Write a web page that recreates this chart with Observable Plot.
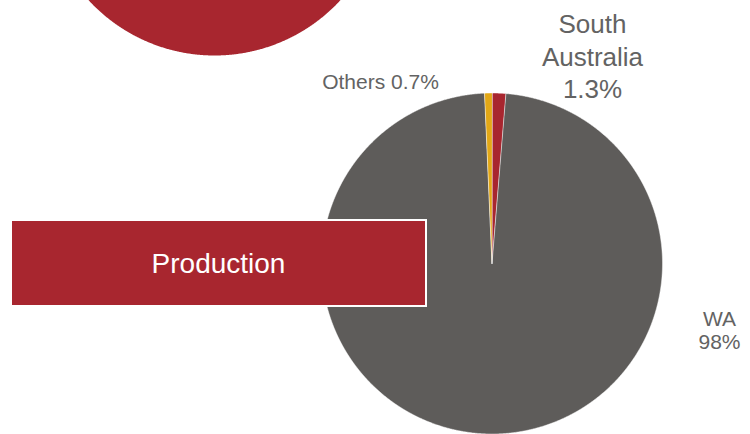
<!DOCTYPE html>
<html><head><meta charset="utf-8">
<script src="https://cdn.jsdelivr.net/npm/d3@7"></script>
<script src="https://cdn.jsdelivr.net/npm/@observablehq/plot@0.6"></script>
<style>
html,body{margin:0;padding:0;background:#fff;overflow:hidden}
#chart svg{display:block}
</style>
</head><body><div id="chart"></div>
<script>
// ---- data (clockwise from 12 o'clock) ----
const regions = ["South Australia", "WA", "Others"];
const shares = [1.3, 98, 0.7];
const labels = ["South\nAustralia\n1.3%", "WA\n98%", "Others 0.7%"];
const colors = ["#a8262f", "#5e5c5a", "#e3a816"];
// the neighbouring (cut-off) pie: a single full slice
const topRegions = ["Total"];
const topShares = [100];
const bannerText = ["Production"];

// ---- layout (pixels) ----
const W = 750, H = 434;
const pie = {cx: 491.5, cy: 263, r: 170.5};
const topPie = {cx: 214, cy: -116, r: 171};
const labelPos = [
  {px: 592, py: 55, size: 26, lh: 1.25},
  {px: 719, py: 330, size: 21, lh: 1.1},
  {px: 380, py: 81.5, size: 21, lh: 1}
];
const banner = {x1: 11, x2: 426, y1: 220, y2: 306, tx: 218, ty: 264, size: 28};

// data units: 1 = main pie radius, origin at main pie centre, y up
const toX = px => (px - pie.cx) / pie.r;
const toY = py => (pie.cy - py) / pie.r;

function slices(names, values, center, radius) {
  const total = d3.sum(values);
  const pts = [];
  let a = 0;
  names.forEach((name, i) => {
    const a0 = a, a1 = a + values[i] / total * 2 * Math.PI;
    a = a1;
    const n = Math.max(2, Math.ceil((a1 - a0) / (Math.PI / 720)));
    const ox = toX(center.cx), oy = toY(center.cy), rr = radius / pie.r;
    if (values[i] < total) pts.push({key: name, x: ox, y: oy});
    for (let k = 0; k <= n; k++) {
      const t = a0 + (a1 - a0) * k / n;
      pts.push({key: name, x: ox + rr * Math.sin(t), y: oy + rr * Math.cos(t)});
    }
  });
  return pts;
}

const mainPts = slices(regions, shares, pie, pie.r);
const topPts = slices(topRegions, topShares, topPie, topPie.r);

const labelData = labels.map((t, i) => ({text: t, x: toX(labelPos[i].px), y: toY(labelPos[i].py), size: labelPos[i].size, lh: labelPos[i].lh}));

const font = "'Liberation Sans', Arial, Helvetica, sans-serif";

const chart = Plot.plot({
  width: W, height: H, margin: 0,
  style: {fontFamily: font, background: "#fff", overflow: "hidden"},
  x: {domain: [toX(0), toX(W)], axis: null},
  y: {domain: [toY(H), toY(0)], axis: null},
  color: {domain: regions, range: colors},
  marks: [
    Plot.line(topPts, {x: "x", y: "y", z: "key", fill: "#a8262f", stroke: "none", curve: "linear-closed", clip: true}),
    Plot.line(mainPts, {x: "x", y: "y", z: "key", fill: "key", stroke: "#ffffff", strokeWidth: 0.6, strokeOpacity: 0.8, curve: "linear-closed", clip: true}),
    Plot.rect(bannerText, {x1: () => toX(banner.x1), x2: () => toX(banner.x2), y1: () => toY(banner.y1), y2: () => toY(banner.y2), fill: "#a8262f", stroke: "#ffffff", strokeWidth: 2}),
    Plot.text(bannerText, {x: () => toX(banner.tx), y: () => toY(banner.ty), text: d => d, fill: "#ffffff", fontSize: banner.size}),
    ...labelData.map(d => Plot.text([d], {x: "x", y: "y", text: "text", fill: "#636363", fontSize: d.size, lineHeight: d.lh, textAnchor: "middle"}))
  ]
});
document.getElementById("chart").appendChild(chart);
</script>
</body></html>
